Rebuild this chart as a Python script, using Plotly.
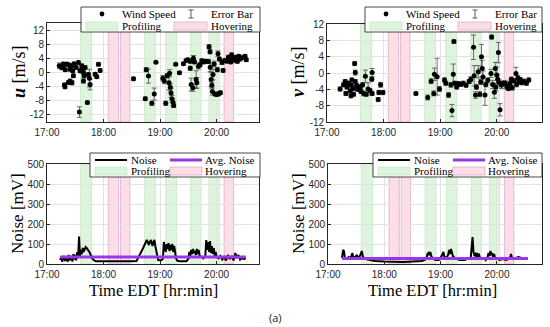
import plotly.graph_objects as go
import pandas as pd

W, H = 550, 327
BASE = pd.Timestamp("2021-06-01 17:00")

# ---------------- data (minutes after 17:00) ----------------
u_minutes = [13.0, 15.5, 17.4, 17.6, 19.1, 19.4, 20.9, 22.7, 22.9, 24.5, 24.5, 26.2, 26.5, 27.3, 28.0, 28.7,
             30.9, 18.5, 33.3, 34.4, 35.1, 36.9, 37.5, 38.7, 38.7, 39.4, 40.4, 42.9, 44.0, 45.0, 45.7, 51.1,
             52.8, 54.6, 56.4, 91.8, 104.3, 105.3, 107.7, 111.3, 113.8, 115.6, 122.9, 124.5, 126.0, 127.5,
             129.5, 130.1, 130.9, 131.6, 132.6, 133.7, 134.4, 136.6, 140.6, 144.8, 147.7, 149.5, 152.0, 152.0,
             153.0, 154.8, 155.4, 156.5, 158.3, 159.0, 160.7, 162.5, 164.3, 166.5, 168.5, 171.3, 172.0, 173.0,
             173.2, 174.2, 175.0, 175.5, 176.2, 177.4, 178.4, 180.2, 180.8, 182.3, 184.0, 181.5, 183.0, 185.8,
             186.9, 188.5, 190.8, 192.5, 193.5, 195.0, 196.0, 197.5, 199.0, 200.5, 202.0, 203.5, 205.0, 207.0,
             210.2, 211.5]
u_values = [1.9, 1.4, 2.4, 1.3, -4.0, 0.8, 2.4, -2.8, 2.2, 0.9, -2.4, 1.9, -2.9, 0.5, -0.9, 2.5,
            1.4, -3.5, 2.8, -11.2, 0.5, 1.9, 0.8, 0.0, -2.4, -0.9, 1.4, -8.5, -0.6, -1.6, -3.4, -0.5,
            -1.2, 2.3, 0.6, -1.8, -7.4, 0.8, -1.0, -8.7, -6.1, 2.9, -1.6, -2.4, -8.7, -0.9,
            -2.9, -0.2, -4.2, -5.8, -7.5, -8.4, -9.3, 2.3, -0.1, 2.5, 3.4, 3.6, 3.2, 1.2,
            -3.4, -4.3, 4.0, 3.0, -2.0, -2.9, 1.8, 2.2, 3.3, 3.0, 3.2, 3.1, 7.3, 5.9,
            1.5, -2.0, -3.6, -5.4, -0.6, 2.4, -6.1, -6.2, 0.8, -6.0, -5.7, 5.3, 3.8, 2.8,
            0.6, 3.4, 3.2, 4.3, 3.5, 3.0, 5.0, 4.0, 3.5, 4.3, 3.2, 4.6, 3.8, 4.2,
            4.6, 3.6]
u_errors = [0.8, 0.6, 0.5, 0.5, 0.6, 0.5, 0.4, 0.5, 0.4, 0.5, 0.5, 0.5, 0.6, 0.5, 0.5, 0.4,
            0.5, 0.5, 0.5, 1.5, 0.6, 0.5, 0.4, 0.5, 0.6, 0.5, 0.5, 0.4, 0.6, 2.5, 1.5, 0.5,
            0.5, 0.5, 0.5, 0.5, 0.5, 0.6, 2.0, 0.6, 1.7, 0.3, 0.8, 0.8, 0.6, 0.6,
            2.0, 1.0, 1.0, 1.2, 1.0, 1.0, 0.6, 0.3, 0.4, 0.4, 0.4, 0.5, 0.6, 0.6,
            1.8, 1.0, 0.8, 0.5, 2.5, 1.5, 0.8, 0.6, 0.6, 0.5, 0.5, 0.6, 0.6, 0.6,
            1.2, 2.0, 0.8, 1.0, 1.5, 0.8, 0.5, 0.5, 0.6, 0.6, 0.5, 0.8, 0.5, 0.5,
            0.5, 0.5, 0.5, 0.6, 0.6, 0.5, 0.5, 0.6, 0.5, 0.5, 0.6, 0.5, 0.5, 0.5,
            0.5, 0.5]

v_minutes = [13.9, 17.5, 19.3, 20.0, 21.1, 22.5, 24.6, 25.4, 25.8, 26.4, 27.5, 28.2, 29.3, 30.0, 30.0, 31.5,
             32.5, 35.4, 36.0, 37.8, 38.9, 40.7, 41.5, 43.6, 45.5, 47.9, 47.5, 47.9, 56.8, 55.0, 54.3, 59.3,
             94.3, 106.8, 110.4, 113.2, 113.9, 116.8, 119.3, 124.6, 126.0, 128.9, 131.4, 132.5, 133.9, 134.6,
             135.5, 137.5, 139.5, 141.8, 144.5, 147.5, 150.7, 152.5, 155.4, 156.1, 157.5, 158.5, 160.4, 162.1,
             163.0, 163.8, 164.6, 165.5, 167.5, 168.5, 170.5, 173.9, 174.6, 175.7, 177.5, 178.5, 179.0, 180.0,
             181.0, 181.8, 182.5, 183.5, 185.0, 187.0, 189.0, 190.7, 192.5, 194.0, 195.5, 196.5, 198.0, 200.4,
             201.0, 202.5, 203.5, 205.0, 206.5, 209.0, 211.5, 214.0]
v_values = [-3.9, -2.9, -2.1, -5.0, -3.4, -2.5, -4.4, -5.6, -3.0, -1.7, -3.8, -5.2, 2.3, 0.1, -2.1, -3.0,
            -4.0, -3.4, -4.5, -2.9, -5.0, -0.8, -5.2, -3.9, -4.3, 0.1, -1.5, -5.0, -2.9, -4.8, -6.5, -4.8,
            -5.0, -6.0, -2.0, -5.0, -0.3, -0.9, -3.9, -1.7, -2.5, -5.4, -2.9, -9.2, -0.3, 7.7,
            -2.5, -3.4, -2.6, -2.8, -2.5, -3.0, -2.1, -1.5, 6.3, -0.7, -5.4, -3.4, 0.3, -5.2,
            -2.2, 4.0, 1.1, -1.0, -5.4, -2.8, -1.8, -0.1, 8.8, -2.8, -4.7, 1.1, -3.5, -0.5,
            -1.5, 5.0, -2.3, -9.0, -3.0, -2.5, -2.5, -3.4, -3.8, -2.6, -1.5, -3.6, -1.9, -0.1,
            -2.8, -1.2, -2.2, -1.6, -2.4, -2.0, -2.5, -1.7]
v_errors = [0.5, 0.5, 0.5, 0.5, 0.5, 0.5, 0.5, 0.5, 0.5, 0.5, 0.5, 0.5, 0.5, 0.6, 0.5, 0.5,
            0.5, 0.6, 0.5, 0.5, 0.6, 1.5, 0.5, 1.5, 0.5, 1.0, 0.5, 0.5, 0.6, 0.5, 0.5, 0.5,
            0.4, 0.6, 0.6, 0.6, 1.5, 4.5, 0.6, 0.5, 0.5, 0.6, 0.6, 1.5, 2.5, 0.4,
            0.5, 0.5, 0.5, 0.5, 0.5, 0.5, 0.5, 0.6, 3.0, 2.5, 0.8, 0.6, 1.5, 0.6,
            0.6, 3.0, 2.0, 1.5, 2.5, 0.6, 0.6, 1.0, 0.5, 1.0, 1.5, 1.5, 0.8, 2.0,
            1.0, 2.5, 0.8, 1.5, 0.8, 0.6, 0.6, 0.6, 0.5, 0.5, 0.5, 0.6, 0.5, 1.5,
            0.6, 0.6, 0.5, 0.5, 0.5, 0.5, 0.5, 0.5]

noise_a_minutes = [14, 15, 16, 18, 19, 20, 22, 23, 24, 26, 27, 28, 29, 30, 31, 32, 33, 34, 35, 36, 37, 38,
                   39, 40, 41, 42, 43, 44, 45, 46, 47, 48, 50, 52, 60, 70, 80, 90, 95, 98, 101, 104, 106,
                   107, 108, 109, 110, 111, 112, 113, 114, 115, 116, 117, 118, 121, 123, 124, 125, 126, 127,
                   128, 129, 130, 131, 132, 133, 134, 135, 136, 137, 138, 140, 148, 150, 151, 152, 153, 154,
                   155, 156, 157, 158, 159, 160, 161, 162, 164, 166, 168, 169, 170, 171, 172, 173, 174, 175,
                   176, 177, 178, 179, 180, 182, 184, 186, 188, 190, 192, 194, 196, 198, 200, 201, 203, 205,
                   207, 209, 211]
noise_a_mv = [20, 35, 12, 40, 15, 35, 12, 45, 18, 40, 12, 50, 22, 45, 18, 60, 30, 137, 40, 70, 50, 80,
              60, 75, 85, 80, 75, 70, 60, 50, 40, 28, 18, 14, 14, 13, 13, 14, 15, 40, 70, 100, 120,
              110, 95, 105, 120, 110, 90, 110, 120, 90, 60, 30, 20, 18, 25, 110, 80, 60, 100,
              75, 105, 65, 95, 70, 100, 60, 90, 40, 28, 18, 14, 14, 25, 60, 40, 70, 50,
              75, 55, 65, 45, 75, 50, 70, 40, 35, 28, 40, 120, 70, 110, 60, 115, 55, 90,
              50, 80, 40, 60, 35, 28, 40, 22, 35, 18, 45, 25, 40, 18, 55, 30, 45, 22,
              30, 25, 30]
avg_noise_a = 35

noise_b_minutes = [15, 16, 17, 18, 20, 22, 24, 26, 27, 29, 31, 32, 34, 36, 37, 38, 40, 45, 50, 60, 70, 80,
                   90, 100, 103, 105, 106, 107, 108, 109, 110, 112, 115, 118, 120, 122, 123, 124, 126, 128,
                   129, 130, 131, 132, 133, 135, 138, 140, 145, 150, 152, 154, 155, 156, 157, 158, 159, 160,
                   161, 162, 164, 166, 168, 170, 171, 172, 173, 174, 175, 176, 177, 178, 180, 183, 186, 190,
                   194, 195, 196, 198, 200, 203, 206, 210, 213]
noise_b_mv = [30, 70, 65, 30, 25, 35, 28, 55, 30, 35, 45, 28, 40, 65, 40, 30, 25, 20, 15, 12, 10, 10,
              12, 15, 20, 30, 50, 55, 45, 60, 40, 25, 20, 20, 30, 55, 60, 35, 30, 45,
              70, 50, 75, 60, 40, 30, 25, 20, 20, 25, 30, 135, 60, 45, 50, 35, 55, 40,
              45, 30, 25, 30, 20, 35, 55, 40, 65, 45, 55, 35, 50, 30, 25, 20, 25, 20,
              30, 50, 30, 25, 30, 35, 30, 30, 28]
avg_noise_b = 28

profiling_start = [35.5, 103.5, 126.0, 152.5, 172.0]
profiling_end = [47.5, 115.0, 137.5, 163.5, 183.0]
hovering_start = [65.0, 78.0, 188.0]
hovering_end = [76.0, 88.0, 198.0]

tick_minutes = [0, 60, 120, 180]
tick_labels = ["17:00", "18:00", "19:00", "20:00"]
wind_ticks = [-12, -8, -4, 0, 4, 8, 12]
noise_ticks = [0, 100, 200, 300, 400, 500]


def T(m):
    return BASE + pd.to_timedelta(m, unit="m")


def Ts(ms):
    return [T(m) for m in ms]


GREEN = "rgba(222,244,220,1)"
GREEN_EDGE = "rgba(200,232,198,1)"
PINK = "rgba(252,222,228,1)"
PINK_EDGE = "rgba(222,170,210,1)"
PURPLE = "#9b35e8"
AXC = "#262626"
SERIF = "Liberation Serif"
SANS = "Liberation Sans"

fig = go.Figure()

# --------- traces ---------
errcol = "#4a4a4a"
fig.add_trace(go.Scatter(x=Ts(u_minutes), y=u_values, mode="markers", xaxis="x", yaxis="y",
                         marker=dict(color="black", size=5),
                         error_y=dict(type="data", array=u_errors, color=errcol, thickness=0.8, width=2.5),
                         showlegend=False))
fig.add_trace(go.Scatter(x=Ts(v_minutes), y=v_values, mode="markers", xaxis="x2", yaxis="y2",
                         marker=dict(color="black", size=5),
                         error_y=dict(type="data", array=v_errors, color=errcol, thickness=0.8, width=2.5),
                         showlegend=False))
fig.add_trace(go.Scatter(x=Ts(noise_a_minutes), y=noise_a_mv, mode="lines", xaxis="x3", yaxis="y3",
                         line=dict(color="black", width=2), showlegend=False))
fig.add_trace(go.Scatter(x=[T(noise_a_minutes[0]), T(noise_a_minutes[-1])], y=[avg_noise_a, avg_noise_a],
                         mode="lines", xaxis="x3", yaxis="y3", line=dict(color=PURPLE, width=3),
                         showlegend=False))
fig.add_trace(go.Scatter(x=Ts(noise_b_minutes), y=noise_b_mv, mode="lines", xaxis="x4", yaxis="y4",
                         line=dict(color="black", width=2), showlegend=False))
fig.add_trace(go.Scatter(x=[T(noise_b_minutes[0]), T(noise_b_minutes[-1])], y=[avg_noise_b, avg_noise_b],
                         mode="lines", xaxis="x4", yaxis="y4", line=dict(color=PURPLE, width=3),
                         showlegend=False))

shapes = []
annotations = []

# --------- bands ---------
for xr, yr in [("x", "y"), ("x2", "y2"), ("x3", "y3"), ("x4", "y4")]:
    for s, e in zip(profiling_start, profiling_end):
        shapes.append(dict(type="rect", xref=xr, yref=yr + " domain", x0=T(s), x1=T(e), y0=0, y1=1,
                           fillcolor=GREEN, line=dict(color=GREEN_EDGE, width=0.8), layer="below"))
    for s, e in zip(hovering_start, hovering_end):
        shapes.append(dict(type="rect", xref=xr, yref=yr + " domain", x0=T(s), x1=T(e), y0=0, y1=1,
                           fillcolor=PINK, line=dict(color=PINK_EDGE, width=0.8), layer="below"))


def px(x):
    return x / W


def py(y):
    return 1 - y / H


# --------- axes ---------
def xaxis(d0, d1, anchor, rng_end):
    return dict(domain=[px(d0), px(d1)], anchor=anchor, type="date", automargin=False,
                range=[T(0), T(rng_end)], tickvals=Ts(tick_minutes), ticktext=tick_labels,
                showgrid=True, gridcolor="#e3e3e3", gridwidth=0.6, zeroline=False,
                showline=True, mirror=True, linecolor=AXC, linewidth=0.8,
                ticks="inside", ticklen=3, tickcolor=AXC, ticklabelstandoff=1,
                tickfont=dict(family=SANS, size=10, color=AXC))


def yaxis(d0, d1, anchor, rng, tv):
    return dict(domain=[py(d1), py(d0)], anchor=anchor, range=rng, tickvals=tv, automargin=False,
                ticktext=[str(t) for t in tv],
                showgrid=True, gridcolor="#e3e3e3", gridwidth=0.6, zeroline=False,
                showline=True, mirror=True, linecolor=AXC, linewidth=0.8,
                ticks="inside", ticklen=3, tickcolor=AXC,
                tickfont=dict(family=SANS, size=10, color=AXC))


layout_axes = dict(
    xaxis=xaxis(47, 259, "y", 225),
    yaxis=yaxis(23, 122, "x", [-14, 14], wind_ticks),
    xaxis2=xaxis(327, 542, "y2", 228),
    yaxis2=yaxis(24, 122, "x2", [-12, 12], wind_ticks),
    xaxis3=xaxis(47, 259, "y3", 225),
    yaxis3=yaxis(164, 264, "x3", [0, 500], noise_ticks),
    xaxis4=xaxis(328, 542, "y4", 228),
    yaxis4=yaxis(164, 264, "x4", [0, 500], noise_ticks),
)


# --------- legends (drawn) ---------
def text(x, y, s, size=11, anchor="left"):
    annotations.append(dict(x=px(x), y=py(y), xref="paper", yref="paper", text=s, showarrow=False,
                            xanchor=anchor, yanchor="middle", borderpad=0,
                            font=dict(family=SERIF, size=size, color="black")))


def box(L, R, top, bot):
    shapes.append(dict(type="rect", xref="paper", yref="paper", x0=px(L), x1=px(R), y0=py(bot), y1=py(top),
                       fillcolor="white", line=dict(color="#1a1a1a", width=0.8), layer="above"))


def swatch(x0, x1, yc, fill, edge):
    shapes.append(dict(type="rect", xref="paper", yref="paper", x0=px(x0), x1=px(x1), y0=py(yc + 4),
                       y1=py(yc - 4), fillcolor=fill, line=dict(color=edge, width=0.8), layer="above"))


def seg(x0, y0, x1, y1, color, width):
    shapes.append(dict(type="line", xref="paper", yref="paper", x0=px(x0), x1=px(x1), y0=py(y0), y1=py(y1),
                       line=dict(color=color, width=width), layer="above"))


def wind_legend(L, R):
    top, bot, r1, r2 = 7, 32, 14, 26
    box(L, R, top, bot)
    shapes.append(dict(type="circle", xref="paper", yref="paper", x0=px(L + 18.6), x1=px(L + 23.4),
                       y0=py(r1 + 2.4), y1=py(r1 - 2.4), fillcolor="black", line=dict(color="black", width=0),
                       layer="above"))
    text(L + 40, r1, "Wind Speed")
    seg(L + 110, r1 - 4, L + 110, r1 + 4, errcol, 0.9)
    seg(L + 107.5, r1 - 4, L + 112.5, r1 - 4, errcol, 0.9)
    seg(L + 107.5, r1 + 4, L + 112.5, r1 + 4, errcol, 0.9)
    text(L + 129, r1, "Error Bar")
    swatch(L + 5, L + 37, r2, GREEN, GREEN_EDGE)
    text(L + 40, r2, "Profiling")
    swatch(L + 93, L + 126, r2, PINK, PINK_EDGE)
    text(L + 129, r2, "Hovering")


def noise_legend(L, R):
    top, bot, r1, r2 = 153, 177, 160, 171
    box(L, R, top, bot)
    seg(L + 5, r1, L + 37, r1, "black", 2)
    text(L + 40, r1, "Noise")
    seg(L + 80, r1, L + 112, r1, PURPLE, 3)
    text(L + 114, r1, "Avg. Noise")
    swatch(L + 5, L + 37, r2, GREEN, GREEN_EDGE)
    text(L + 40, r2, "Profiling")
    swatch(L + 80, L + 112, r2, PINK, PINK_EDGE)
    text(L + 114, r2, "Hovering")


wind_legend(81, 260)
wind_legend(365, 542)
noise_legend(90, 260)
noise_legend(373, 542)


# --------- axis titles ---------
def vtitle(x, y, s, size=17):
    annotations.append(dict(x=px(x), y=py(y), xref="paper", yref="paper", text=s, showarrow=False,
                            textangle=-90, xanchor="center", yanchor="middle", borderpad=0,
                            font=dict(family=SERIF, size=size, color="black")))


vtitle(19, 72, "<b><i>u</i></b> [m/s]", 18)
vtitle(298, 72, "<b><i>v</i></b> [m/s]", 18)
vtitle(17, 214, "Noise [mV]")
vtitle(298, 214, "Noise [mV]")
text(153, 290, "Time EDT [hr:min]", size=16.5, anchor="center")
text(432, 290, "Time EDT [hr:min]", size=16.5, anchor="center")

annotations.append(dict(x=px(275), y=py(317), xref="paper", yref="paper", text="(a)", showarrow=False,
                        xanchor="center", yanchor="middle", borderpad=0,
                        font=dict(family="Open Sans", size=11, color="#222222")))

fig.update_layout(width=W, height=H, margin=dict(l=0, r=0, t=0, b=0, pad=0), autosize=False,
                  paper_bgcolor="white", plot_bgcolor="white",
                  shapes=shapes, annotations=annotations, showlegend=False, **layout_axes)

fig.write_html("out.html", config={"displayModeBar": False},
               post_script="document.body.style.margin='0';document.body.style.overflow='hidden';")
